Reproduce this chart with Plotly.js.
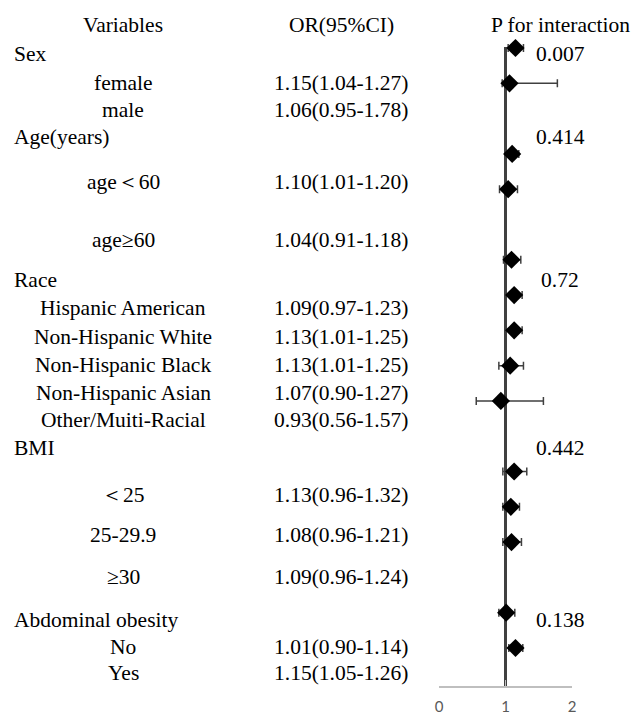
<!DOCTYPE html>
<html>
<head>
<meta charset="utf-8">
<script src="https://cdn.plot.ly/plotly-3.0.1.min.js"></script>
<style>html,body{margin:0;padding:0;background:#fff;}#chart{width:632px;height:717px;}</style>
</head>
<body>
<div id="chart"></div>
<script>
// ---------------- DATA ----------------
const headers = ["Variables", "OR(95%CI)", "P for interaction"];
const groups = ["Sex", "Age(years)", "Race", "BMI", "Abdominal obesity"];
const subgroups = [
  ["female", "male"],
  ["age＜60", "age≥60"],
  ["Hispanic American", "Non-Hispanic White", "Non-Hispanic Black", "Non-Hispanic Asian", "Other/Muiti-Racial"],
  ["＜25", "25-29.9", "≥30"],
  ["No", "Yes"]
];
const orValues = [[1.15, 1.06], [1.10, 1.04], [1.09, 1.13, 1.13, 1.07, 0.93], [1.13, 1.08, 1.09], [1.01, 1.15]];
const ciLower  = [[1.04, 0.95], [1.01, 0.91], [0.97, 1.01, 1.01, 0.90, 0.56], [0.96, 0.96, 0.96], [0.90, 1.05]];
const ciUpper  = [[1.27, 1.78], [1.20, 1.18], [1.23, 1.25, 1.25, 1.27, 1.57], [1.32, 1.21, 1.24], [1.14, 1.26]];
const pInteraction = ["0.007", "0.414", "0.72", "0.442", "0.138"];
const xTicks = [0, 1, 2];

// ---------------- LAYOUT CONSTANTS (pixels) ----------------
const W = 632, H = 717;
const M = {l: 439, r: 60, t: 30, b: 31};
const PW = W - M.l - M.r, PH = H - M.t - M.b;
const headerRowPx = 25;
const groupRowPx = [54, 137, 280, 448, 620];
const subRowPx = [[83, 110], [182, 240], [308, 337, 365, 393, 420], [495, 535, 577], [647, 673]];
const colLabelLeftPx = 12, colLabelCenterPx = 123, colORPx = 341, colPPx = 560;
const px2x = px => (px - M.l) / PW;
const py2y = py => 1 - (py - M.t) / PH;

// ---------------- BUILD ----------------
const categoryOrder = [];
groups.forEach((g, i) => { categoryOrder.push(g); subgroups[i].forEach(s => categoryOrder.push(s)); });

const ys = [], xs = [], eplus = [], eminus = [];
subgroups.forEach((arr, i) => arr.forEach((s, j) => {
  ys.push(s); xs.push(orValues[i][j]);
  eplus.push(+(ciUpper[i][j] - orValues[i][j]).toFixed(3));
  eminus.push(+(orValues[i][j] - ciLower[i][j]).toFixed(3));
}));

const serif = "Liberation Serif, Times New Roman, serif";
const tf = {family: serif, size: 21.5, color: "#000"};
const ann = [];
function addText(text, px, py, align) {
  ann.push({text: text, xref: "paper", yref: "paper", x: px2x(px), y: py2y(py),
    xanchor: align, yanchor: "middle", showarrow: false, font: tf});
}
addText(headers[0], colLabelCenterPx, headerRowPx, "center");
addText(headers[1], colORPx, headerRowPx, "center");
addText(headers[2], colPPx, headerRowPx, "center");
groups.forEach((g, i) => {
  addText(g, colLabelLeftPx, groupRowPx[i], "left");
  addText(pInteraction[i], colPPx, groupRowPx[i], "center");
  subgroups[i].forEach((s, j) => {
    addText(s, colLabelCenterPx, subRowPx[i][j], "center");
    const t = orValues[i][j].toFixed(2) + "(" + ciLower[i][j].toFixed(2) + "-" + ciUpper[i][j].toFixed(2) + ")";
    addText(t, colORPx, subRowPx[i][j], "center");
  });
});

const firstIdx = categoryOrder.indexOf(subgroups[0][0]);
const lastIdx = categoryOrder.length - 1;
const yBottom = lastIdx + 1.077;
const yTop = firstIdx - 0.51;

const trace = {
  type: "scatter", mode: "markers", x: xs, y: ys, cliponaxis: false,
  marker: {symbol: "diamond", size: 14, color: "#000"},
  error_x: {type: "data", symmetric: false, array: eplus, arrayminus: eminus,
    color: "#404040", thickness: 1.5, width: 4},
  hoverinfo: "x+y"
};

const layout = {
  width: W, height: H, margin: M, showlegend: false,
  paper_bgcolor: "#fff", plot_bgcolor: "#fff",
  xaxis: {range: [0, 2], tickvals: xTicks, ticktext: xTicks.map(String), showgrid: false, zeroline: false,
    showline: true, linecolor: "#bfbfbf", linewidth: 1.5, ticks: "inside", ticklen: 6, tickwidth: 1.5, tickcolor: "#bfbfbf",
    tickfont: {family: "Lato, Open Sans, sans-serif", size: 15, color: "#595959"}, ticklabelstandoff: 6, fixedrange: true},
  yaxis: {type: "category", categoryorder: "array", categoryarray: categoryOrder,
    range: [yBottom, yTop], visible: false, fixedrange: true},
  shapes: [{type: "line", xref: "x", yref: "y", x0: 1, x1: 1, y0: firstIdx - 0.03, y1: yBottom,
    line: {color: "#404040", width: 3}, layer: "below"}],
  annotations: ann
};

Plotly.newPlot("chart", [trace], layout, {displayModeBar: false, staticPlot: true});
</script>
</body>
</html>
